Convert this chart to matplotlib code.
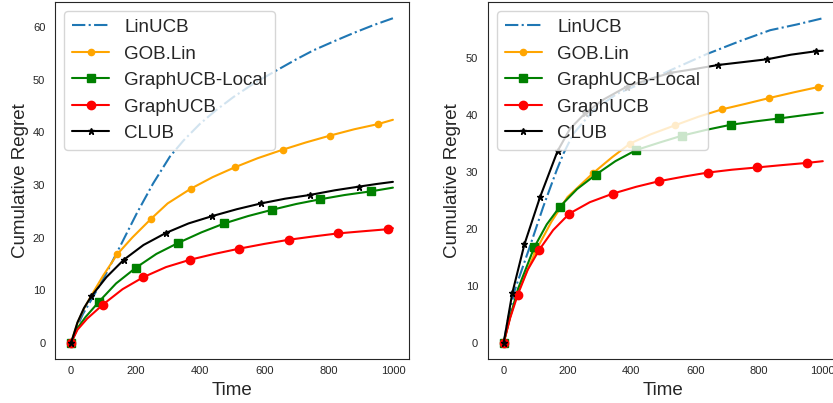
import numpy as np
import matplotlib
matplotlib.use("Agg")
import matplotlib.pyplot as plt
import seaborn as sns

# ---------------- data ----------------------------------------------------
# left panel
l_lin_t = [0, 20, 37, 68, 110, 152, 204, 255, 307, 350, 400, 450, 504, 570, 639, 700, 753, 820, 878, 940, 1000]
l_lin_y = [0, 3.2, 5.5, 8.7, 13.3, 18.3, 24.6, 30.3, 35.4, 38.5, 41.6, 44.2, 46.7, 49.4, 51.8, 53.9, 55.6, 57.4, 58.9, 60.4, 61.7]

l_gob_t = [0, 20, 40, 63, 100, 143, 190, 249, 300, 372, 440, 510, 580, 657, 730, 805, 880, 955, 1000]
l_gob_y = [0, 3.8, 6.5, 9.0, 12.8, 16.8, 20.0, 23.6, 26.5, 29.3, 31.5, 33.4, 35.1, 36.7, 38.1, 39.4, 40.6, 41.6, 42.4]
l_gob_m = [0, 5, 7, 9, 11, 13, 15, 17]

l_loc_t = [0, 20, 45, 87, 140, 201, 265, 333, 405, 476, 550, 625, 700, 775, 850, 932, 1000]
l_loc_y = [0, 2.8, 4.9, 7.85, 11.3, 14.26, 16.9, 19.0, 21.0, 22.7, 24.1, 25.3, 26.4, 27.3, 28.1, 28.8, 29.5]
l_loc_m = [0, 3, 5, 7, 9, 11, 13, 15]

l_gucb_t = [0, 20, 50, 99, 160, 225, 295, 370, 445, 522, 600, 677, 750, 829, 905, 984, 1000]
l_gucb_y = [0, 2.5, 4.6, 7.28, 10.2, 12.5, 14.4, 15.8, 16.9, 17.9, 18.8, 19.6, 20.2, 20.8, 21.2, 21.6, 21.8]
l_gucb_m = [0, 3, 5, 7, 9, 11, 13, 15]

l_club_t = [0, 20, 40, 63, 110, 164, 225, 295, 365, 439, 515, 590, 665, 741, 820, 895, 950, 1000]
l_club_y = [0, 3.9, 6.6, 8.86, 12.5, 15.8, 18.6, 20.9, 22.7, 24.1, 25.4, 26.5, 27.4, 28.1, 29.0, 29.7, 30.2, 30.6]
l_club_m = [0, 3, 5, 7, 9, 11, 13, 15]

# right panel
r_lin_t = [0, 15, 35, 82, 124, 166, 187, 218, 281, 354, 438, 532, 636, 741, 835, 918, 1000]
r_lin_y = [0, 4.5, 9.3, 16.9, 23.9, 30.3, 33.2, 36.7, 40.8, 43.7, 45.7, 48.1, 50.7, 53.0, 54.9, 55.9, 57.0]

r_gob_t = [0, 20, 45, 100, 150, 200, 280, 340, 396, 460, 537, 610, 684, 760, 833, 910, 984, 1000]
r_gob_y = [0, 4.6, 8.9, 16.1, 21.3, 25.6, 29.8, 32.6, 35.0, 36.6, 38.2, 39.7, 41.0, 42.0, 43.0, 44.0, 44.9, 45.1]
r_gob_m = [0, 3, 6, 8, 10, 12, 14, 16]

r_loc_t = [0, 20, 45, 96, 135, 176, 230, 288, 350, 415, 490, 560, 635, 712, 790, 863, 930, 1000]
r_loc_y = [0, 4.5, 9.5, 16.8, 20.8, 23.9, 27.0, 29.5, 31.9, 33.85, 35.2, 36.4, 37.4, 38.3, 38.9, 39.4, 39.9, 40.4]
r_loc_m = [0, 3, 5, 7, 9, 11, 13, 15]

r_gucb_t = [0, 20, 44, 75, 111, 155, 206, 270, 342, 415, 488, 565, 640, 715, 794, 870, 951, 1000]
r_gucb_y = [0, 4.3, 8.44, 12.8, 16.3, 19.8, 22.7, 24.7, 26.2, 27.4, 28.4, 29.2, 29.9, 30.4, 30.8, 31.2, 31.6, 31.9]
r_gucb_m = [0, 2, 4, 6, 8, 10, 12, 14, 16]

r_club_t = [0, 27, 65, 114, 169, 208, 255, 312, 386, 458, 521, 600, 673, 750, 826, 900, 978, 1000]
r_club_y = [0, 8.74, 17.3, 25.6, 33.7, 37.6, 40.3, 42.7, 45.0, 46.3, 47.4, 48.1, 48.8, 49.3, 49.8, 50.6, 51.2, 51.3]
r_club_m = [0, 1, 2, 3, 4, 6, 8, 10, 12, 14, 16]

panels = [
    (l_lin_t, l_lin_y, l_gob_t, l_gob_y, l_gob_m, l_loc_t, l_loc_y, l_loc_m,
     l_gucb_t, l_gucb_y, l_gucb_m, l_club_t, l_club_y, l_club_m),
    (r_lin_t, r_lin_y, r_gob_t, r_gob_y, r_gob_m, r_loc_t, r_loc_y, r_loc_m,
     r_gucb_t, r_gucb_y, r_gucb_m, r_club_t, r_club_y, r_club_m),
]

# ---------------- style ---------------------------------------------------
sns.set_style("white")
plt.rcParams['font.family'] = ['Liberation Sans', 'DejaVu Sans']

fig = plt.figure(figsize=(8.33, 4.03), dpi=100)
ax_l = fig.add_axes([0.066, 0.109, 0.425, 0.886])
ax_r = fig.add_axes([0.5855, 0.109, 0.4214, 0.886])

for ax, p in zip([ax_l, ax_r], panels):
    (lt, ly, gt, gy, gm, ct, cy, cm, ut, uy, um, bt, by, bm) = p
    ax.plot(lt, ly, '-.', color='#1f77b4', lw=1.5, label='LinUCB')
    ax.plot(gt, gy, '-', color='orange', lw=1.5, marker='o', ms=4.5,
            markevery=gm, label='GOB.Lin')
    ax.plot(ct, cy, '-', color='green', lw=1.5, marker='s', ms=5.5,
            markevery=cm, label='GraphUCB-Local')
    ax.plot(ut, uy, '-', color='red', lw=1.5, marker='o', ms=6,
            markevery=um, label='GraphUCB')
    ax.plot(bt, by, '-', color='black', lw=1.5, marker='*', ms=5,
            markevery=bm, label='CLUB')
    ax.set_xlabel("Time", fontsize=13.5, labelpad=4)
    ax.set_ylabel("Cumulative Regret", fontsize=13.5, labelpad=3)
    ax.tick_params(axis='both', labelsize=8)
    ax.tick_params(axis='x', pad=1.5)
    ax.legend(loc='upper left', fontsize=13.5, labelspacing=0.5,
              handlelength=2.0)

fig.savefig("out.png", dpi=100)
